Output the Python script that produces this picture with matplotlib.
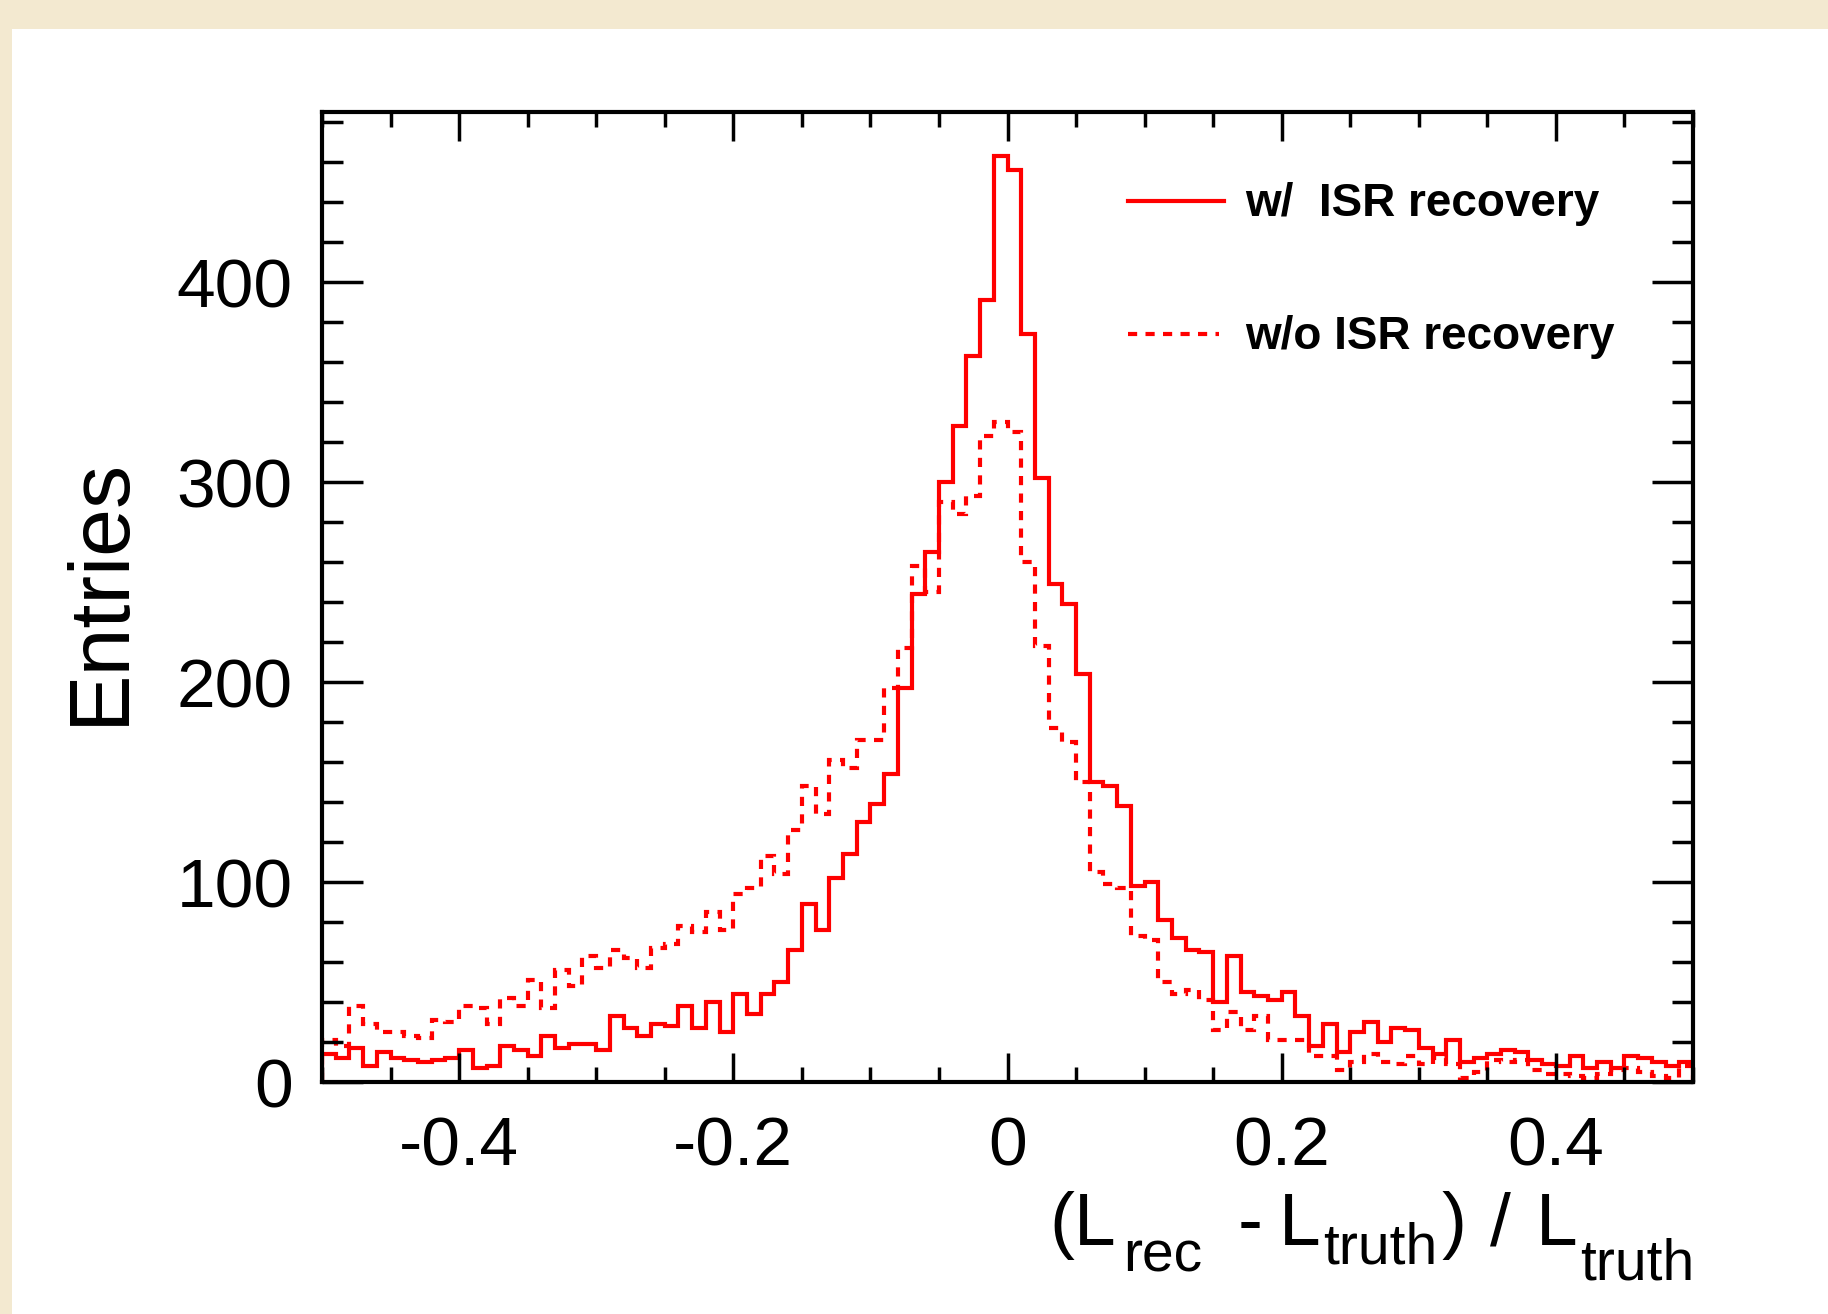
import numpy as np
import matplotlib
matplotlib.use("Agg")
import matplotlib.pyplot as plt
from matplotlib.ticker import MultipleLocator, FixedLocator, FuncFormatter
from matplotlib.patches import Rectangle

plt.rcParams['font.family'] = ['Liberation Sans', 'DejaVu Sans']
plt.rcParams['axes.unicode_minus'] = False

# 100 bins of (L_rec - L_truth)/L_truth from -0.5 to 0.5
bin_lo, bin_hi, n_bins = -0.5, 0.5, 100

# entries, with ISR recovery (solid)
w_isr = [14, 12, 17, 8, 15, 12, 11, 10, 11, 12,
         16, 7, 8, 18, 16, 13, 23, 17, 19, 19,
         16, 33, 27, 23, 29, 28, 38, 27, 40, 25,
         44, 34, 44, 50, 66, 89, 76, 102, 114, 130,
         139, 154, 197, 244, 265, 300, 328, 363, 391, 463,
         456, 374, 302, 249, 239, 204, 150, 148, 138, 98,
         100, 81, 72, 66, 65, 40, 63, 45, 43, 41,
         45, 33, 18, 29, 15, 25, 30, 20, 27, 26,
         17, 14, 21, 10, 12, 14, 16, 15, 11, 9,
         8, 13, 7, 10, 7, 13, 12, 10, 8, 10]

# entries, without ISR recovery (dashed)
wo_isr = [21, 18, 38, 29, 25, 25, 23, 22, 31, 30,
          38, 37, 29, 42, 38, 51, 37, 56, 48, 63,
          57, 66, 62, 57, 67, 69, 78, 75, 85, 76,
          94, 97, 113, 104, 126, 148, 134, 161, 157, 171,
          171, 197, 217, 258, 245, 290, 284, 293, 323, 330,
          325, 260, 218, 177, 170, 150, 105, 99, 97, 73,
          71, 50, 44, 46, 41, 26, 35, 26, 33, 21,
          21, 21, 13, 13, 6, 10, 14, 10, 9, 13,
          9, 12, 9, 2, 5, 11, 10, 11, 6, 4,
          4, 3, 2, 4, 6, 7, 5, 3, 2, 8]

labels = ['w/  ISR recovery', 'w/o ISR recovery']
x_ticks = [-0.4, -0.2, 0, 0.2, 0.4]
y_ticks = [0, 100, 200, 300, 400]

edges = np.linspace(bin_lo, bin_hi, n_bins + 1)
W, H = 1828, 1314

fig = plt.figure(figsize=(W / 100, H / 100), dpi=100, facecolor='#F3E9D0')
# white slide panel
fig.patches.append(Rectangle((12 / W, 0), 1.0, 1 - 29 / H,
                             transform=fig.transFigure, facecolor='white',
                             edgecolor='none', zorder=-10))

ax = fig.add_axes([322 / W, 1 - 1082 / H, (1693 - 322) / W, (1082 - 112) / H])
ax.set_facecolor('white')

dash = (0, (2.2, 2.0))
ax.stairs(w_isr, edges, baseline=0, color='#FF0000', lw=3)
ax.stairs(wo_isr, edges, baseline=0, color='#FF0000', lw=3, linestyle=dash)

ax.set_xlim(bin_lo, bin_hi)
ax.set_ylim(0, 485)

ax.xaxis.set_major_locator(FixedLocator(x_ticks))
ax.xaxis.set_minor_locator(MultipleLocator(0.05))
ax.xaxis.set_major_formatter(FuncFormatter(lambda v, p: '0' if abs(v) < 1e-9 else '%g' % v))
ax.yaxis.set_major_locator(FixedLocator(y_ticks))
ax.yaxis.set_minor_locator(MultipleLocator(20))

ax.tick_params(which='both', direction='in', top=True, right=True, width=2.5, labelsize=50)
ax.tick_params(axis='x', which='major', length=21, pad=24)
ax.tick_params(axis='x', which='minor', length=10.5)
ax.tick_params(axis='y', which='major', length=29.5, pad=21)
ax.tick_params(axis='y', which='minor', length=14.8)
for s in ax.spines.values():
    s.set_linewidth(3)

# legend, drawn by hand like the ROOT TLegend
ax.plot([0.588, 0.658], [0.9087, 0.9087], transform=ax.transAxes, color='#FF0000', lw=3)
ax.plot([0.588, 0.654], [0.7716, 0.7716], transform=ax.transAxes, color='#FF0000', lw=3,
        linestyle=dash)
ax.text(0.6735, 0.893, labels[0], transform=ax.transAxes, fontsize=33, fontweight='bold',
        va='baseline', ha='left')
ax.text(0.6735, 0.756, labels[1], transform=ax.transAxes, fontsize=33, fontweight='bold',
        va='baseline', ha='left')

fig.text(101 / W, 1 - 591 / H, 'Entries', rotation=90, fontsize=62,
         ha='center', va='center')

# x title, ROOT style subscripts: (piece, x px, baseline px, size)
xtitle = [('(L', 1049, 1245, 54), ('rec', 1123, 1271, 41), ('-', 1238, 1245, 54),
          ('L', 1279, 1245, 54), ('truth', 1323, 1263, 41), (')', 1442, 1245, 54),
          ('/', 1490, 1245, 54), ('L', 1536, 1245, 54), ('truth', 1580, 1279, 41)]
for txt, px, py, fs in xtitle:
    fig.text(px / W, 1 - py / H, txt, fontsize=fs, ha='left', va='baseline')

fig.savefig('out.png', dpi=100, facecolor=fig.get_facecolor())
